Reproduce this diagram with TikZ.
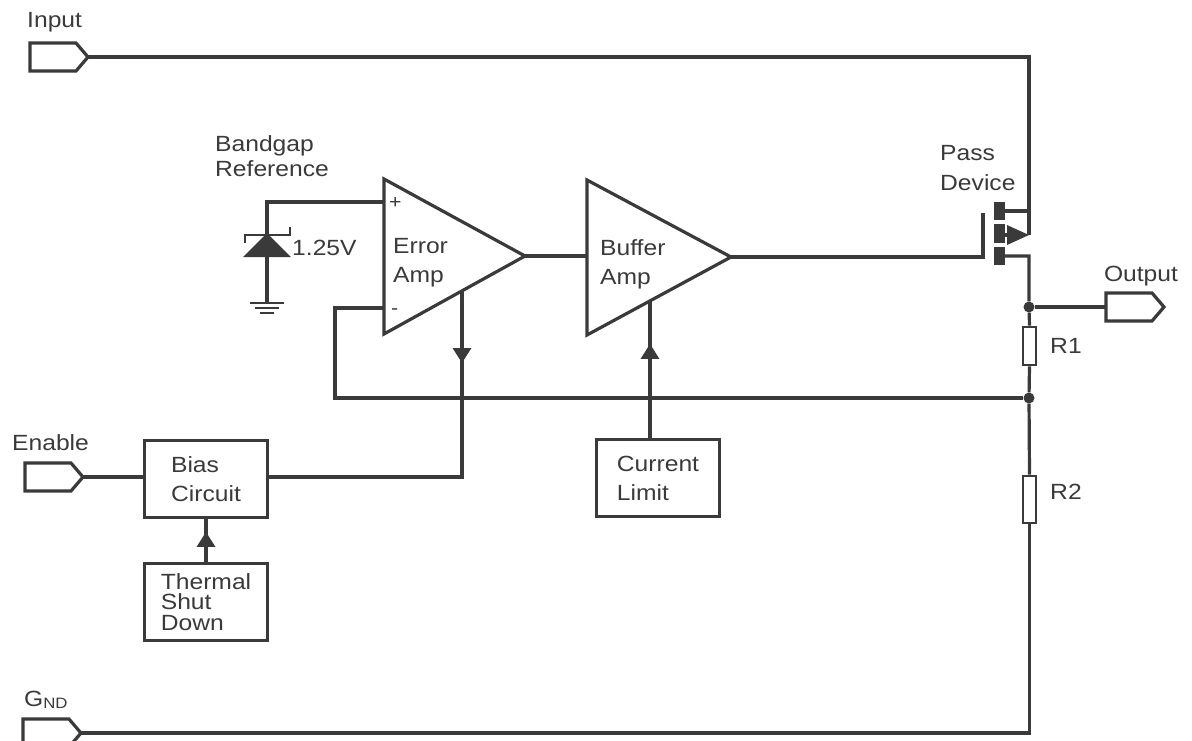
\documentclass[tikz,border=0pt]{standalone}
\usepackage{fontspec}
\setmainfont{Liberation Sans}[FakeStretch=1.12]
\usetikzlibrary{arrows.meta,decorations.markings}
\definecolor{ink}{HTML}{3A3A3A}
\tikzset{
    wire/.style={draw=ink, line width=3.2pt},
    blockbox/.style={draw=ink, line width=3.2pt, minimum width=123pt, minimum height=77pt,
        align=left, text=ink, font=\fontsize{22}{29}\selectfont, inner sep=0pt},
    lbl/.style={text=ink, align=left, font=\fontsize{22}{29}\selectfont, inner sep=0pt, anchor=west},
    resbox/.style={draw=ink, line width=2.6pt, fill=white, minimum width=13pt, inner sep=0pt},
    dot/.style={circle, fill=ink, inner sep=0pt, minimum size=11pt},
    midarrow/.style={postaction={decorate}, decoration={markings,
        mark=at position #1 with {\arrow{Triangle[width=18pt,length=15pt]}}}},
    port/.pic={
        \draw[wire, line join=miter] (0,-14) -- (46,-14) -- (58,0) -- (46,14) -- (0,14) -- cycle;
        \coordinate (-tip) at (58,0);
        \coordinate (-base) at (0,0);
    }
}
\begin{document}
\begin{tikzpicture}[x=1pt, y=-1pt]
    \useasboundingbox (0,0) rectangle (1192,740);

    % terminals
    \pic (inport) at (30,57) {port};
    \pic (enport) at (25,477) {port};
    \pic (gndport) at (23,733) {port};
    \pic (outport) at (1106,307) {port};
    \node[lbl] (inlbl) at (27,22) {Input};
    \node[lbl] (enlbl) at (12,443) {Enable};
    \node[lbl] (gndlbl) at (24,700) {G\raisebox{-2pt}{\fontsize{15}{15}\selectfont ND}};
    \node[lbl, anchor=center] (outlbl) at (1141,276) {Output};

    % amplifiers
    \coordinate (ea-t) at (384,179);
    \coordinate (ea-o) at (525,256);
    \coordinate (ea-bl) at (384,334);
    \coordinate (ea-p) at (384,202);
    \coordinate (ea-m) at (384,308);
    \coordinate (ea-b) at (462,291);
    \coordinate (ba-t) at (587,180);
    \coordinate (ba-o) at (731,257);
    \coordinate (ba-bl) at (587,335);
    \coordinate (ba-in) at (587,256);
    \coordinate (ba-b) at (650,301);
    \draw[wire, line join=miter] (ea-t) -- (ea-o) -- (ea-bl) -- cycle;
    \draw[wire, line join=miter] (ba-t) -- (ba-o) -- (ba-bl) -- cycle;
    \node[lbl] (ealbl) at (393,263) {Error\\Amp};
    \node[lbl] (balbl) at (600,264) {Buffer\\Amp};
    \node[lbl, font=\fontsize{19}{19}\selectfont] (plus) at (389,203) {+};
    \node[lbl, font=\fontsize{19}{19}\selectfont] (minus) at (391,312) {-};

    % blocks
    \node[blockbox] (bias) at (206,479) {Bias\\Circuit};
    \node[blockbox, font=\fontsize{22}{20.5}\selectfont] (thermal) at (206,602) {Thermal\\Shut\\Down};
    \node[blockbox] (climit) at (658,478) {Current\\Limit};

    % bandgap reference
    \coordinate (zk) at (267,233);
    \coordinate (zgnd) at (267,303);
    \draw[wire] (ea-p) -| (zgnd);
    \fill[ink] (zk) -- (243,257) -- (291,257) -- cycle;
    \draw[wire, line width=2.6pt] (245,243) -- (245,235) -- (290,235) -- (290,227);
    \draw[wire, line width=2.6pt] (250,303) -- (284,303) (255,308) -- (279,308) (260,313) -- (274,313);
    \node[lbl] (vref) at (292,248) {1.25V};
    \node[lbl, font=\fontsize{22}{25}\selectfont] (bglbl) at (215,156) {Bandgap\\Reference};

    % pass device
    \coordinate (pd-d) at (1029,211);
    \coordinate (pd-s) at (1029,235);
    \coordinate (pd-g) at (983,213);
    \fill[ink] (994,202) rectangle (1005,220);
    \fill[ink] (994,224) rectangle (1005,243);
    \fill[ink] (994,247) rectangle (1005,265);
    \draw[wire] (1005,211) -- (pd-d);
    \draw[wire] (1005,235) -- (1012,235);
    \fill[ink] (pd-s) -- (1007,225) -- (1007,245) -- cycle;
    \node[lbl, font=\fontsize{22}{30}\selectfont] (pdlbl) at (940,168) {Pass\\Device};

    % divider
    \node[dot] (outj) at (1029,307) {};
    \node[dot] (fbj) at (1029,398) {};
    \node[resbox, minimum height=38pt] (r1) at (1029.5,346) {};
    \node[resbox, minimum height=47pt] (r2) at (1029.5,499.5) {};
    \node[lbl] (r1lbl) at (1050,346) {R1};
    \node[lbl] (r2lbl) at (1050,492) {R2};

    % wiring
    \draw[wire] (inport-tip) -| (pd-s);
    \draw[wire] (ea-o) -- (ba-in);
    \draw[wire] (ba-o) -| (pd-g);
    \draw[wire] (1005,256) -| (outj) -- (r1.north);
    \draw[wire] (outj) -- (outport-base);
    \draw[wire] (r1.south) -- (fbj) -- (r2.north);
    \draw[wire] (r2.south) |- (gndport-tip);
    \coordinate (fbc) at (335,308);
    \draw[wire] (fbj) -| (fbc) -- (ea-m);
    \draw[wire] (enport-tip) -- (enport-tip -| bias.west);
    \draw[wire, midarrow=72pt] (ea-b) -- (ea-b |- enport-tip) -- (enport-tip -| bias.east);
    \draw[wire, midarrow=30pt] (thermal.north) -- (bias.south);
    \draw[wire, midarrow=94pt] (ba-b |- climit.north) -- (ba-b);
\end{tikzpicture}
\end{document}
